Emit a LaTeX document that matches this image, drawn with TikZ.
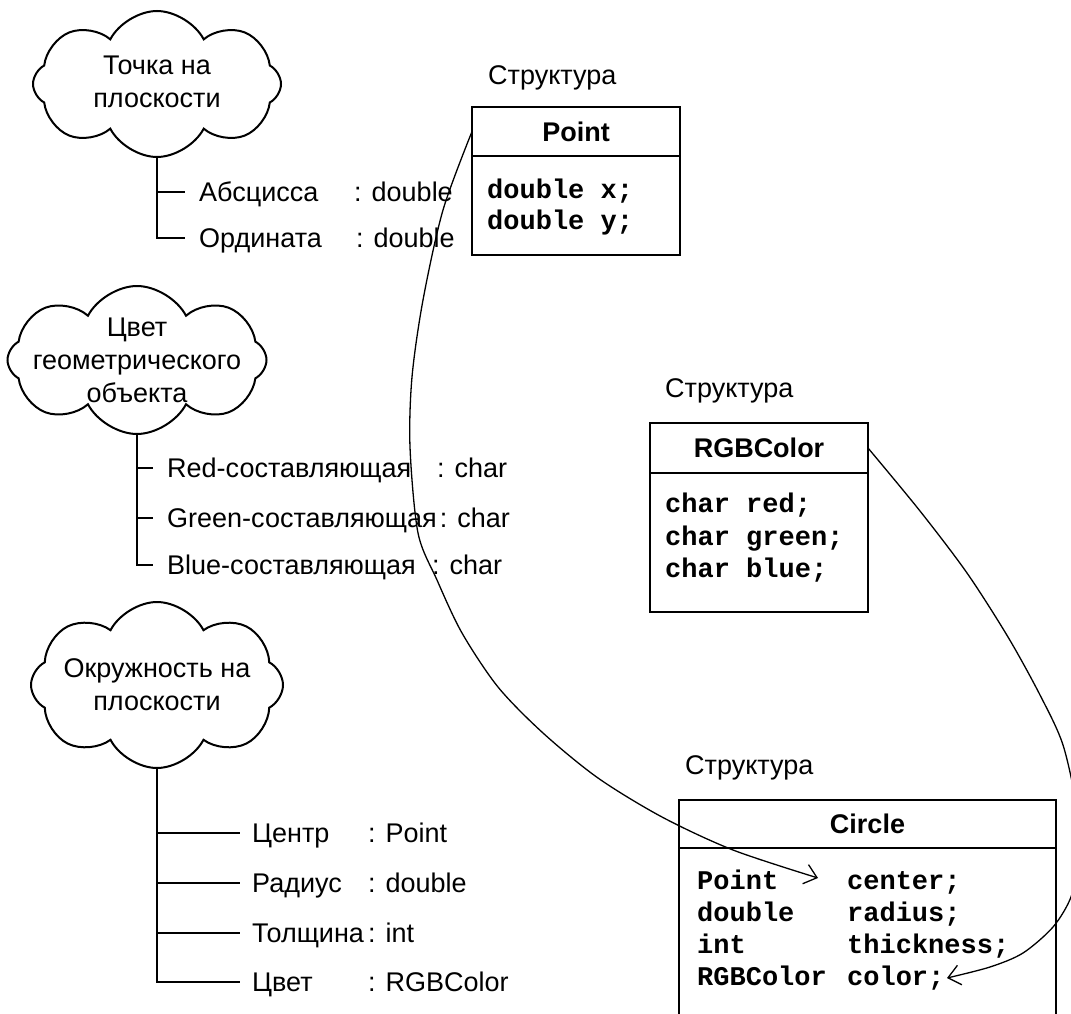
\documentclass[tikz,border=0pt]{standalone}
\usepackage{fontspec}
\setmainfont{Liberation Sans}
\setmonofont{Liberation Mono}
\usetikzlibrary{arrows.meta,positioning,shapes.symbols}

\newcommand{\attr}[3]{\makebox[#1][l]{#2}#3}
\newcommand{\fld}[2]{\makebox[150pt][l]{#1}#2}

\begin{document}
\begin{tikzpicture}[x=1pt,y=-1pt,
  cloudshape/.style={cloud, cloud puffs=8, cloud puff arc=125, cloud ignores aspect, draw, line width=2pt, inner sep=0pt},
  cloudtext/.style={align=center, font=\fontsize{27}{33}\selectfont},
  plaintext/.style={font=\fontsize{27}{32}\selectfont, text height=19.4pt, text depth=0pt, inner ysep=0pt, inner xsep=0pt, anchor=west},
  attrline/.style={plaintext, inner xsep=#1},
  treeline/.style={line width=2pt},
  boxtitle/.style={draw, line width=2pt, outer sep=0pt, font=\fontsize{27}{32}\selectfont\bfseries},
  boxbody/.style={draw, line width=2pt, outer sep=0pt},
  codeline/.style={font=\fontsize{27}{32}\selectfont\ttfamily\bfseries, inner sep=0pt, anchor=base west},
  linkarrow/.style={line width=1.3pt, -{Straight Barb[length=12pt,width=20pt]}}
]
\useasboundingbox (0,0) rectangle (1071,1014);

% облако: точка
\node[cloudshape, minimum width=248pt, minimum height=146pt] (ptcloud) at (157,84) {};
\node[cloudtext] (ptcloudtxt) at (157,82) {Точка на\\плоскости};
\node[attrline=14pt] (abs) at (185,192) {\attr{155pt}{Абсцисса}{: double}};
\node[attrline=14pt] (ord) at (185,238) {\attr{157pt}{Ордината}{: double}};
\draw[treeline] (ptcloud.south) |- (abs.west);
\draw[treeline] (ptcloud.south) |- (ord.west);

% облако: цвет
\node[cloudshape, minimum width=259pt, minimum height=148pt] (rgbcloud) at (137,360) {};
\node[cloudtext] (rgbcloudtxt) at (rgbcloud.center) {Цвет\\геометрического\\объекта};
\node[attrline=14pt] (red) at (153,468) {\attr{270pt}{Red-составляющая}{: char}};
\node[attrline=14pt] (green) at (153,518) {Green-составляющая\hspace{3pt}: char};
\node[attrline=14pt] (blue) at (153,565) {\attr{265pt}{Blue-составляющая}{: char}};
\draw[treeline] (rgbcloud.south) |- (red.west);
\draw[treeline] (rgbcloud.south) |- (green.west);
\draw[treeline] (rgbcloud.south) |- (blue.west);

% облако: окружность
\node[cloudshape, minimum width=252pt, minimum height=166pt] (circcloud) at (157,685) {};
\node[cloudtext] (circcloudtxt) at (circcloud.center) {Окружность на\\плоскости};
\node[attrline=12pt] (cen) at (240,833) {\attr{116pt}{Центр}{: Point}};
\node[attrline=12pt] (rad) at (240,883) {\attr{116pt}{Радиус}{: double}};
\node[attrline=12pt] (thk) at (240,933) {\attr{116pt}{Толщина}{: int}};
\node[attrline=12pt] (col) at (240,982) {\attr{116pt}{Цвет}{: RGBColor}};
\draw[treeline] (circcloud.south) |- (cen.west);
\draw[treeline] (circcloud.south) |- (rad.west);
\draw[treeline] (circcloud.south) |- (thk.west);
\draw[treeline] (circcloud.south) |- (col.west);

% структура Point
\node[plaintext] (ptcap) at (488,75) {Структура};
\node[boxtitle, minimum width=208pt, minimum height=49pt] (pttitle) at (576,131.5) {Point};
\node[boxbody, minimum width=208pt, minimum height=99pt, below=0pt of pttitle] (ptbody) {};
\node[codeline] (ptx) at (487,198) {double x;};
\node[codeline] (pty) at (487,229) {double y;};

% структура RGBColor
\node[plaintext] (rgbcap) at (665,388) {Структура};
\node[boxtitle, minimum width=218pt, minimum height=50pt] (rgbtitle) at (759,448) {RGBColor};
\node[boxbody, minimum width=218pt, minimum height=139pt, below=0pt of rgbtitle] (rgbbody) {};
\node[codeline] (rgbr) at (665,512) {char red;};
\node[codeline] (rgbg) at (665,545) {char green;};
\node[codeline] (rgbb) at (665,577) {char blue;};

% структура Circle
\node[plaintext] (circcap) at (685,765) {Структура};
\node[boxtitle, minimum width=377pt, minimum height=48pt] (circtitle) at (867.5,824) {Circle};
\node[boxbody, minimum width=377pt, minimum height=190pt, below=0pt of circtitle] (circbody) {};
\node[codeline] (fcen) at (697,889) {\fld{Point}{center;}};
\node[codeline] (frad) at (697,921) {\fld{double}{radius;}};
\node[codeline] (fthk) at (697,953) {\fld{int}{thickness;}};
\node[codeline] (fcol) at (697,985) {\fld{RGBColor}{color;}};

% связи
\coordinate (cin) at (818,878);
\coordinate (cout) at (947,978);
\draw[linkarrow] plot[smooth, tension=0.5] coordinates {(pttitle.west) (443,210) (423,300) (412,377) (410,447) (418,533) (437,580) (462,633) (498,687) (543,733) (598,778) (662,817) (733,850) (cin)};
\draw[linkarrow] plot[smooth, tension=0.5] coordinates {(rgbtitle.east) (920,511) (967,573) (1008,637) (1040,695) (1063,745) (1077,810) (1078,860) (1071,897) (1053,927) (1023,953) (990,967) (cout)};
\end{tikzpicture}
\end{document}
